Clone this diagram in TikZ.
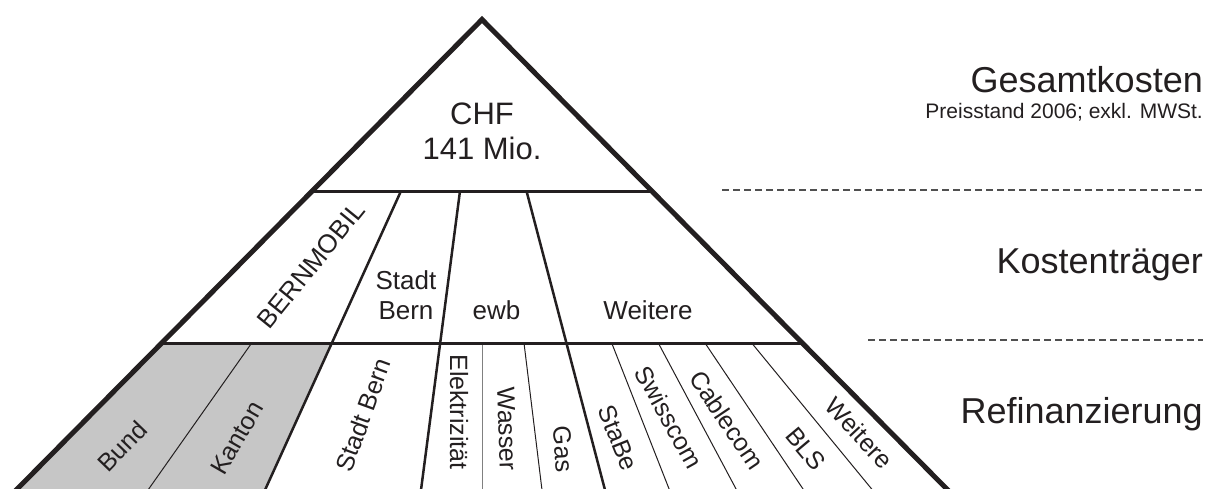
\documentclass[tikz,border=0pt]{standalone}
\usepackage{fontspec}
\setmainfont{Liberation Sans}
\definecolor{ink}{HTML}{231F20}
\definecolor{cellgray}{HTML}{C6C6C6}
\definecolor{dashgray}{HTML}{505050}
\begin{document}
\begin{tikzpicture}[x=1pt,y=-1pt,
  outer/.style={draw=ink,line width=5pt,line join=miter},
  levelline/.style={draw=ink,line width=3pt},
  divider/.style={draw=ink,line width=2.5pt},
  thinline/.style={draw=ink,line width=1pt},
  grayline/.style={draw=gray,line width=1.2pt},
  sepline/.style={draw=dashgray,line width=1.5pt,dash pattern=on 7pt off 4pt},
  lbl/.style={text=ink,inner sep=0pt,font=\fontsize{25}{30}\selectfont},
  midlbl/.style={text=ink,inner sep=0pt,align=center,font=\fontsize{26}{30}\selectfont},
  biglbl/.style={text=ink,inner sep=0pt,font=\fontsize{36}{43}\selectfont,anchor=base east},
  smalllbl/.style={text=ink,inner sep=0pt,font=\fontsize{21}{25}\selectfont,anchor=base east}]
\useasboundingbox (0,0) rectangle (1211,488);
\begin{scope}
\clip (0,0) rectangle (1211,488);
% key points
\coordinate (apex) at (482,19.5);
\coordinate (L0) at (-3.6,510);
\coordinate (R0) at (967.6,510);
\coordinate (L1) at (312.2,191);
\coordinate (R1) at (651.8,191);
\coordinate (L2) at (161.7,343);
\coordinate (R2) at (802.3,343);
\coordinate (LB) at (16.2,490);
% gray fill (Bund, Kanton)
\coordinate (d1t) at (401,191);
\coordinate (d1m) at (332,343);
\coordinate (d1b) at (265,490);
\fill[cellgray] (L2) -- (d1m) -- (d1b) -- (LB) -- cycle;
% dividers of Kostentraeger (continuing down)
\coordinate (d2t) at (460,191);
\coordinate (d2b) at (421,490);
\coordinate (d3t) at (526.5,191);
\coordinate (d3b) at (605,490);
\draw[divider] (d1t) -- (d1b);
\draw[divider] (d2t) -- (d2b);
\draw[divider] (d3t) -- (d3b);
% thin lines of Refinanzierung
\coordinate (t1a) at (251.7,343); \coordinate (t1b) at (148,490);
\coordinate (t2a) at (482.3,343); \coordinate (t2b) at (482.3,490);
\coordinate (t3a) at (524,343);   \coordinate (t3b) at (542,490);
\coordinate (t4a) at (611.7,343); \coordinate (t4b) at (669.5,490);
\coordinate (t5a) at (658.3,343); \coordinate (t5b) at (736.6,490);
\coordinate (t6a) at (705,343);   \coordinate (t6b) at (803.7,490);
\coordinate (t7a) at (751.7,343); \coordinate (t7b) at (872.5,490);
\draw[thinline] (t1a) -- (t1b);
\draw[grayline] (t2a) -- (t2b);
\draw[thinline] (t3a) -- (t3b);
\draw[thinline] (t4a) -- (t4b);
\draw[thinline] (t5a) -- (t5b);
\draw[thinline] (t6a) -- (t6b);
\draw[thinline] (t7a) -- (t7b);
% level lines
\draw[levelline] (L1) -- (R1);
\draw[levelline] (L2) -- (R2);
% outer edges
\draw[outer] (L0) -- (apex) -- (R0);
\end{scope}
% dashed separators
\coordinate (s1a) at (722,190); \coordinate (s1b) at (1203,190);
\coordinate (s2a) at (868,340); \coordinate (s2b) at (1203,340);
\draw[sepline] (s1a) -- (s1b);
\draw[sepline] (s2a) -- (s2b);
% top text
\node[text=ink,inner sep=0pt,align=center,font=\fontsize{31}{35}\selectfont] (chf) at (482,131) {CHF\\141 Mio.};
% Kostentraeger texts
\node[midlbl,rotate=51] (bernmobil) at (311,265) {BERNMOBIL};
\node[midlbl] (stadtbern1) at (406,295) {Stadt\\Bern};
\node[midlbl] (ewb) at (496.5,310) {ewb};
\node[midlbl] (weitere1) at (648,310) {Weitere};
% Refinanzierung texts
\node[lbl,rotate=46] (bund) at (122,446) {Bund};
\node[lbl,rotate=60] (kanton) at (237,438) {Kanton};
\node[lbl,rotate=70] (stadtbern2) at (363,415) {Stadt Bern};
\node[lbl,rotate=-90] (elektr) at (459,412) {Elektrizität};
\node[lbl,rotate=-88] (wasser) at (507,429) {Wasser};
\node[lbl,rotate=-86] (gas) at (563,449) {Gas};
\node[lbl,rotate=-68] (stabe) at (618,438) {StaBe};
\node[lbl,rotate=-61] (swisscom) at (669,417) {Swisscom};
\node[lbl,rotate=-56] (cablecom) at (727,420) {Cablecom};
\node[lbl,rotate=-50] (bls) at (806,449) {BLS};
\node[lbl,rotate=-47] (weitere2) at (859,433) {Weitere};
% right side texts
\node[biglbl] (gesamt) at (1203,92) {Gesamtkosten};
\node[smalllbl] (preis) at (1203,118) {Preisstand 2006; exkl. MWSt.};
\node[biglbl] (kostentr) at (1203,273) {Kostenträger};
\node[biglbl] (refin) at (1203,423) {Refinanzierung};
\end{tikzpicture}
\end{document}
